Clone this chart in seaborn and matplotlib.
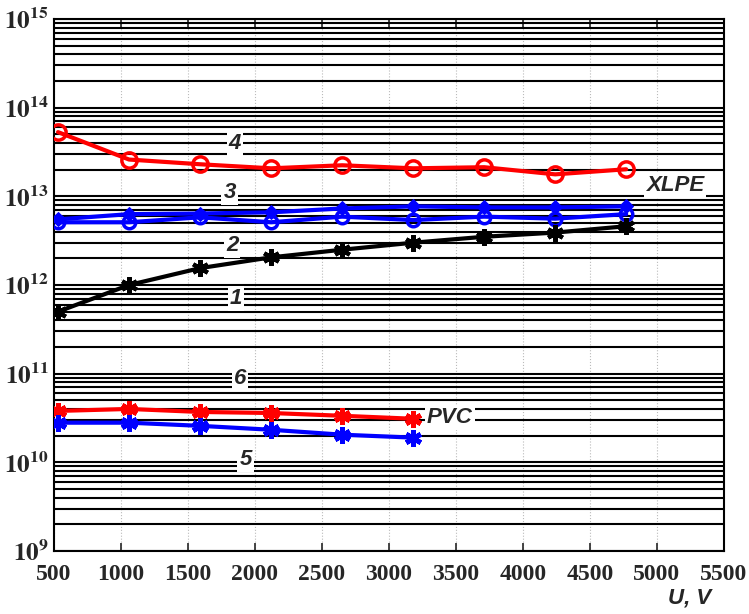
import numpy as np
import pandas as pd
import matplotlib
matplotlib.use("Agg")
import matplotlib.pyplot as plt
import matplotlib.ticker as mticker
import seaborn as sns

# voltage steps, V
u_xlpe = [530, 1060, 1590, 2120, 2650, 3180, 3710, 4240, 4770]
u_pvc = [530, 1060, 1590, 2120, 2650, 3180]

# resistance values
r4 = [5.3e13, 2.6e13, 2.3e13, 2.07e13, 2.24e13, 2.07e13, 2.13e13, 1.77e13, 2.02e13]
r3_up = [5.5e12, 6.3e12, 6.4e12, 6.6e12, 7.3e12, 7.7e12, 7.5e12, 7.5e12, 7.7e12]
r3_low = [5.1e12, 5.1e12, 5.8e12, 5.1e12, 5.9e12, 5.4e12, 5.9e12, 5.6e12, 6.3e12]
r_black = [5.0e11, 1.0e12, 1.55e12, 2.05e12, 2.5e12, 3.0e12, 3.5e12, 3.9e12, 4.6e12]
r6 = [3.8e10, 4.0e10, 3.7e10, 3.6e10, 3.35e10, 3.1e10]
r5 = [2.8e10, 2.8e10, 2.58e10, 2.33e10, 2.05e10, 1.9e10]

curve_labels = ["4", "3", "2", "1", "6", "5"]
label_x = [1850, 1810, 1830, 1860, 1890, 1930]
label_y = [3.9e13, 1.1e13, 2.8e12, 7.0e11, 8.8e10, 1.07e10]

sns.set_style("white")
plt.rcParams["mathtext.fontset"] = "stix"

fig = plt.figure(figsize=(7.49, 6.14), dpi=100)
ax = fig.add_axes([54 / 749, 63 / 614, 670 / 749, 532 / 614])
ax.set_yscale("log")

ast = (6, 2, 0)
sns.lineplot(x=u_xlpe, y=r4, ax=ax, color="red", linewidth=3, marker="o",
             markersize=11, markerfacecolor="none", markeredgecolor="red",
             markeredgewidth=2.5, zorder=5)
sns.lineplot(x=u_xlpe, y=r3_up, ax=ax, color="blue", linewidth=3, marker="D",
             markersize=7, markerfacecolor="blue", markeredgecolor="blue",
             zorder=5)
sns.lineplot(x=u_xlpe, y=r3_low, ax=ax, color="blue", linewidth=3, marker="o",
             markersize=9, markerfacecolor="none", markeredgecolor="blue",
             markeredgewidth=2.5, zorder=5)
sns.lineplot(x=u_xlpe, y=r_black, ax=ax, color="black", linewidth=3, marker=ast,
             markersize=12, markeredgecolor="black", markeredgewidth=3, zorder=5)
sns.lineplot(x=u_pvc, y=r6, ax=ax, color="red", linewidth=3, marker=ast,
             markersize=12, markeredgecolor="red", markeredgewidth=3.5, zorder=5)
sns.lineplot(x=u_pvc, y=r5, ax=ax, color="blue", linewidth=3, marker=ast,
             markersize=12, markeredgecolor="blue", markeredgewidth=3.5, zorder=5)

ax.set_xlim(500, 5500)
ax.set_ylim(1e9, 1e15)
ax.set_xticks(np.arange(500, 5501, 500))
ax.yaxis.set_minor_locator(mticker.LogLocator(base=10, subs=np.arange(2, 10), numticks=20))
ax.yaxis.set_minor_formatter(mticker.NullFormatter())
ax.set_yticks([10.0 ** k for k in range(9, 16)])
ax.set_yticklabels([r"$\mathbf{10^{%d}}$" % k for k in range(9, 16)], fontsize=18)
ax.set_xticklabels([str(v) for v in range(500, 5501, 500)],
                   fontfamily="Liberation Serif", fontweight="bold", fontsize=17)

ax.set_axisbelow(True)
ax.yaxis.grid(True, which="both", color="black", linewidth=1.5)
ax.xaxis.grid(True, which="major", color="#bbbbbb", linewidth=0.8, linestyle=":")
ax.tick_params(axis="x", which="major", direction="in", length=6, width=1.2,
               top=True, bottom=True, pad=9)
ax.tick_params(axis="y", which="both", length=0, pad=4)
for s in ax.spines.values():
    s.set_linewidth(1.5)
    s.set_color("black")

box = dict(facecolor="white", edgecolor="none", pad=1.5)
lab_font = dict(fontfamily="Liberation Sans", fontweight="bold", fontstyle="italic",
                fontsize=16, ha="center", va="center", zorder=4)
for t, xx, yy in zip(curve_labels, label_x, label_y):
    ax.text(xx, yy, t, bbox=box, **lab_font)
ax.text(5134, 1.33e13, "XLPE", bbox=box, **lab_font)
ax.text(3455, 3.2e10, "PVC", bbox=box, **lab_font)

fig.text(690 / 749, 1 - 598 / 614, "U, V", fontfamily="Liberation Sans",
         fontweight="bold", fontstyle="italic", fontsize=16, ha="center", va="center")

fig.savefig("out.png", dpi=100)
